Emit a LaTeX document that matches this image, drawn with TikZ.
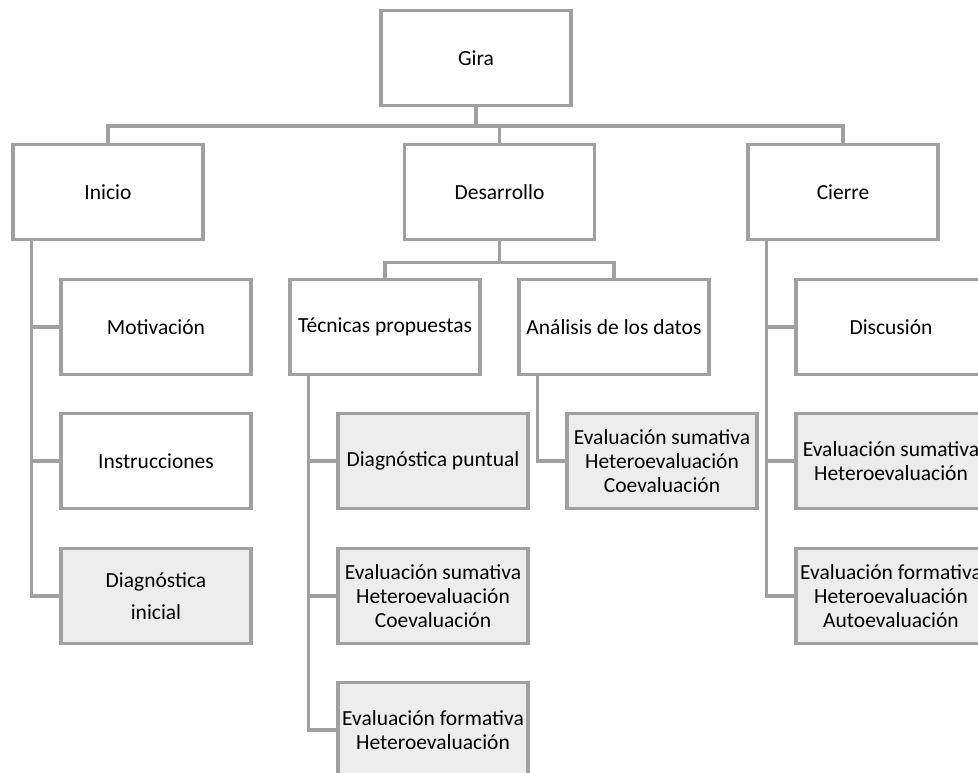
\documentclass[tikz,border=0pt]{standalone}
\usepackage{fontspec}
\setmainfont{Carlito}
\definecolor{linegray}{HTML}{A0A0A0}
\definecolor{boxgray}{HTML}{EDEDED}
\begin{document}
\begin{tikzpicture}[x=1pt,y=-1pt,
  box/.style={draw=linegray, line width=3.2pt, fill=white, minimum width=190pt, minimum height=95pt, inner sep=0pt, align=center, font=\fontsize{21.5}{24}\selectfont},
  gbox/.style={box, fill=boxgray},
  conn/.style={draw=linegray, line width=3.2pt}]
\useasboundingbox (0,0) rectangle (978,773);
\clip (0,0) rectangle (978,773);
% level 0 and 1
\node[box] (gira) at (476,58) {Gira};
\node[box] (inicio) at (108,192) {Inicio};
\node[box] (desarrollo) at (499.5,192) {Desarrollo};
\node[box] (cierre) at (843,192) {Cierre};
% Inicio children
\node[box] (motivacion) at (156,327) {Motivación};
\node[box] (instrucciones) at (156,461) {Instrucciones};
\node[gbox] (diaginicial) at (156,596) {Diagnóstica\\[8pt]inicial};
% Desarrollo children
\node[box] (tecnicas) at (385,327) {Técnicas propuestas};
\node[box] (analisis) at (614,327) {Análisis de los datos};
\node[gbox] (diagpuntual) at (433,461) {Diagnóstica puntual};
\node[gbox] (tecsum) at (433,596) {Evaluación sumativa\\Heteroevaluación\\Coevaluación};
\node[gbox] (tecform) at (433,730) {Evaluación formativa\\Heteroevaluación};
\node[gbox] (anasum) at (662,461) {Evaluación sumativa\\Heteroevaluación\\Coevaluación};
% Cierre children
\node[box] (discusion) at (891,327) {Discusión};
\node[gbox] (cierresum) at (891,461) {Evaluación sumativa\\Heteroevaluación};
\node[gbox] (cierreform) at (891,596) {Evaluación formativa\\Heteroevaluación\\Autoevaluación};
% connectors level 1
\draw[conn] (gira.south) -- ++(0,19) coordinate (bus);
\draw[conn] (inicio.north) |- (bus) -| (cierre.north);
\draw[conn] (desarrollo.north) -- (desarrollo.north |- bus);
% Inicio
\coordinate (iv) at ([xshift=20pt]inicio.south west);
\draw[conn] (iv) |- (diaginicial.west);
\draw[conn] (iv |- motivacion.west) -- (motivacion.west);
\draw[conn] (iv |- instrucciones.west) -- (instrucciones.west);
% Desarrollo
\draw[conn] (desarrollo.south) -- ++(0,21) coordinate (bus2);
\draw[conn] (tecnicas.north) |- (bus2) -| (analisis.north);
\coordinate (tv) at ([xshift=20pt]tecnicas.south west);
\draw[conn] (tv) |- (tecform.west);
\draw[conn] (tv |- diagpuntual.west) -- (diagpuntual.west);
\draw[conn] (tv |- tecsum.west) -- (tecsum.west);
\coordinate (av) at ([xshift=20pt]analisis.south west);
\draw[conn] (av) |- (anasum.west);
% Cierre
\coordinate (cv) at ([xshift=20pt]cierre.south west);
\draw[conn] (cv) |- (cierreform.west);
\draw[conn] (cv |- discusion.west) -- (discusion.west);
\draw[conn] (cv |- cierresum.west) -- (cierresum.west);
\end{tikzpicture}
\end{document}
